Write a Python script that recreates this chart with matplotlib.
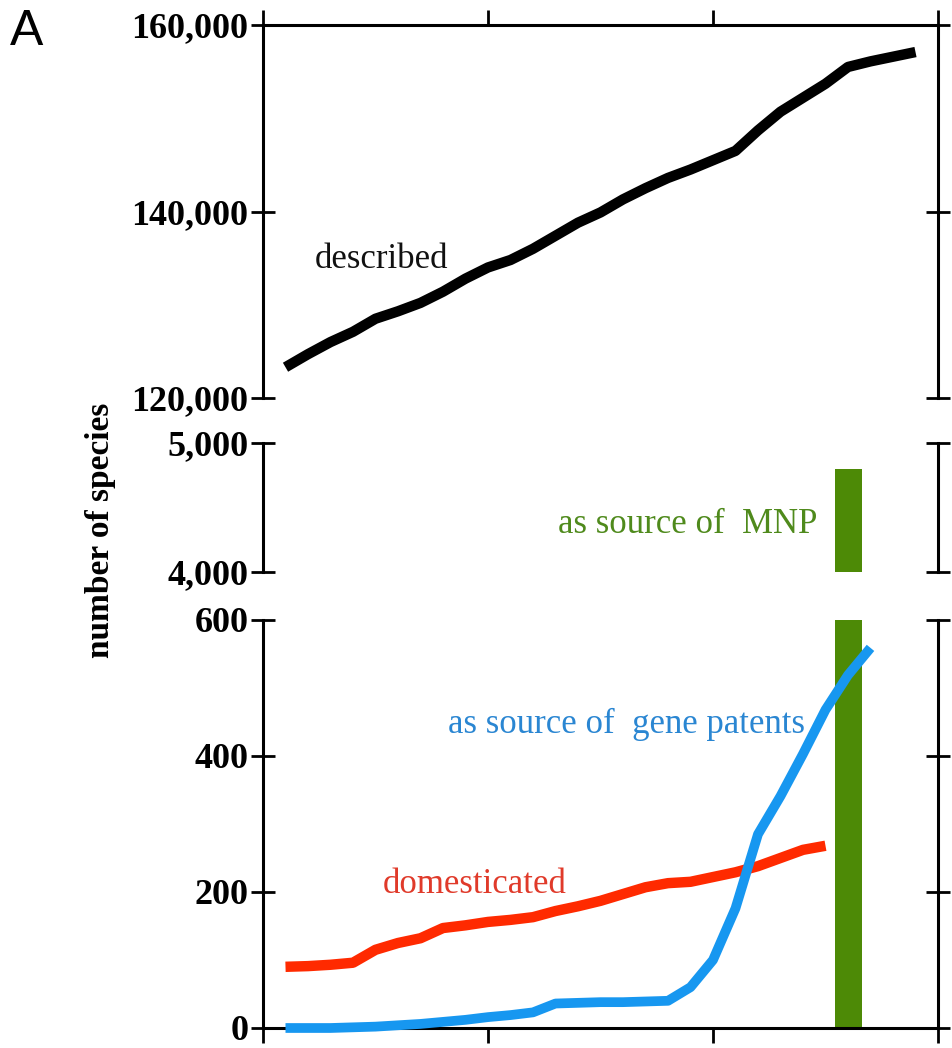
import matplotlib
matplotlib.use("Agg")
import matplotlib.pyplot as plt
import numpy as np

# ---- data ----
years = list(range(1981, 2010))
described = [123300, 124700, 126000, 127100, 128500, 129300, 130200, 131400, 132800,
             134000, 134800, 136000, 137400, 138800, 139900, 141300, 142500, 143600,
             144500, 145500, 146500, 148700, 150700, 152200, 153700, 155500, 156100,
             156600, 157100]
dom_years = list(range(1981, 2006))
domesticated = [90, 91, 93, 96, 115, 125, 132, 147, 151, 156, 159, 163, 172, 179, 187,
                197, 207, 213, 215, 222, 229, 238, 250, 262, 268]
gene_years = list(range(1981, 2008))
gene_patents = [0, 0, 0, 1, 2, 4, 6, 9, 12, 16, 19, 23, 36, 37, 38, 38, 39, 40, 60,
                100, 176, 285, 341, 403, 468, 519, 559]
mnp_year = 2006
mnp_value = 4800

top_ticks = [120000, 140000, 160000]
top_labels = ["120,000", "140,000", "160,000"]
mid_ticks = [4000, 5000]
mid_labels = ["4,000", "5,000"]
bot_ticks = [0, 200, 400, 600]
bot_labels = ["0", "200", "400", "600"]
x_ticks = [1980, 1990, 2000, 2010]

BLACK = "#000000"
RED = "#ff2a00"
BLUE = "#1797f0"
GREEN = "#4d8a06"

plt.rcParams['font.family'] = ['Liberation Serif', 'DejaVu Serif']

W, H = 952, 1048
fig = plt.figure(figsize=(W / 100, H / 100), dpi=100)

def ax_rect(top_px, bot_px):
    left = 263 / W
    width = (938 - 263) / W
    bottom = 1 - bot_px / H
    height = (bot_px - top_px) / H
    return [left, bottom, width, height]

ax_top = fig.add_axes(ax_rect(25, 398))
ax_mid = fig.add_axes(ax_rect(443, 572))
ax_bot = fig.add_axes(ax_rect(620, 1028))

lw_spine = 2.2
for ax in (ax_top, ax_mid, ax_bot):
    ax.set_xlim(1980, 2010)
    for s in ax.spines.values():
        s.set_linewidth(lw_spine)
    ax.tick_params(axis='y', which='both', direction='inout', length=17, width=2.0,
                   left=True, right=True, labelleft=True, labelright=False,
                   labelsize=26, pad=2)
    ax.bar([mnp_year], [mnp_value], width=1.2, color=GREEN, zorder=2)

ANN = 25

# top panel
ax_top.set_ylim(120000, 160000)
ax_top.spines['bottom'].set_visible(False)
ax_top.set_xticks(x_ticks)
ax_top.tick_params(axis='x', which='both', direction='out', length=11, width=2.0,
                   bottom=False, top=True, labelbottom=False, labeltop=False)
ax_top.plot(years, described, color=BLACK, lw=7.5, solid_capstyle='butt',
            solid_joinstyle='round', zorder=3)
ax_top.set_yticks(top_ticks)
ax_top.set_yticklabels(top_labels, fontweight='bold')
ax_top.text(1982.3, 133900, "described", fontsize=ANN, color="#111111", va='baseline')

# middle panel
ax_mid.set_ylim(4000, 5000)
ax_mid.spines['top'].set_visible(False)
ax_mid.spines['bottom'].set_visible(False)
ax_mid.tick_params(axis='x', which='both', bottom=False, top=False,
                   labelbottom=False, labeltop=False)
ax_mid.set_yticks(mid_ticks)
ax_mid.set_yticklabels(mid_labels, fontweight='bold')
ax_mid.text(1993.1, 4300, "as source of  MNP", fontsize=ANN, color="#4f8a1c", va='baseline')

# bottom panel
ax_bot.set_ylim(0, 600)
ax_bot.spines['top'].set_visible(False)
ax_bot.set_xticks(x_ticks)
ax_bot.tick_params(axis='x', which='both', direction='out', length=11, width=2.0,
                   bottom=True, top=False, labelbottom=False, labeltop=False)
ax_bot.plot(dom_years, domesticated, color=RED, lw=7.5, solid_capstyle='butt',
            solid_joinstyle='round', zorder=3, clip_on=False)
ax_bot.plot(gene_years, gene_patents, color=BLUE, lw=7, solid_capstyle='butt',
            solid_joinstyle='round', zorder=4, clip_on=False)
ax_bot.set_yticks(bot_ticks)
ax_bot.set_yticklabels(bot_labels, fontweight='bold')
ax_bot.text(1985.3, 198, "domesticated", fontsize=ANN, color="#e03a2a", va='baseline')
ax_bot.text(1988.2, 434, "as source of  gene patents", fontsize=ANN, color="#2a86d2",
            va='baseline')

fig.text(100 / W, 1 - 530 / H, "number of species", rotation=90, fontsize=24,
         fontweight='bold', ha='center', va='center')
fig.text(10 / W, 1 - 45 / H, "A", fontsize=36, family='Liberation Sans',
         ha='left', va='baseline')

fig.savefig("out.png", dpi=100, facecolor='white')
